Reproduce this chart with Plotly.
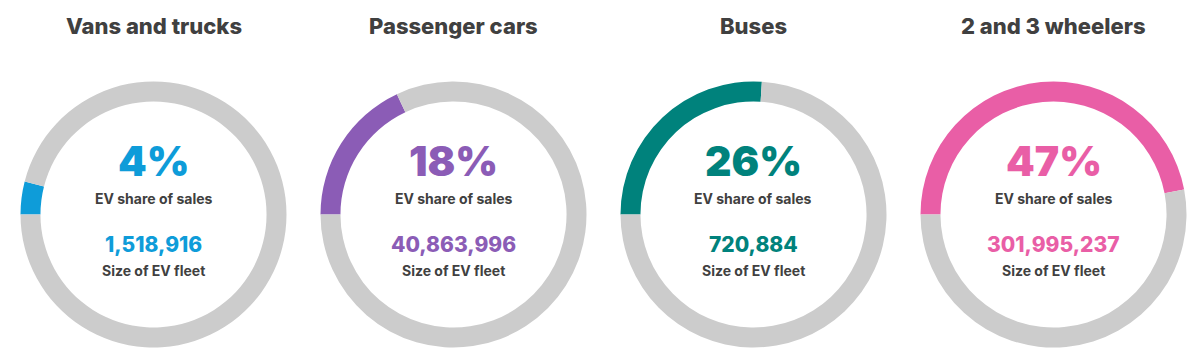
import plotly.graph_objects as go

categories = ["Vans and trucks", "Passenger cars", "Buses", "2 and 3 wheelers"]
ev_share = [4, 18, 26, 47]
fleet_labels = ["1,518,916", "40,863,996", "720,884", "301,995,237"]
colors = ["#0e9cd9", "#8b5cb6", "#00827c", "#e95ea6"]
grey = "#cccccc"
text_dark = "#404040"

OFF = 8  # default page body margin
W, H = 1200 - OFF, 357 - OFF
cx0, step = 153.5 - OFF, 300
cy = 214.5 - OFF
r = 133
FONT = "Inter"

fig = go.Figure()
for i, (cat, share, col) in enumerate(zip(categories, ev_share, colors)):
    cx = cx0 + step * i
    fig.add_trace(go.Pie(
        values=[share, 100 - share],
        labels=["EV", "Other"],
        marker=dict(colors=[col, grey], line=dict(width=0)),
        hole=0.85,
        sort=False,
        direction="clockwise",
        rotation=270,
        textinfo="none",
        hoverinfo="skip",
        showlegend=False,
        domain=dict(x=[(cx - r) / W, (cx + r) / W], y=[(H - cy - r) / H, (H - cy + r) / H]),
    ))

    def ann(text, ypx, size, color, anchor="middle", weight=800):
        fig.add_annotation(
            x=cx / W, y=1 - (ypx - OFF) / H, xref="paper", yref="paper",
            text=text, showarrow=False, xanchor="center", yanchor=anchor,
            font=dict(family=FONT, size=size, color=color, weight=weight),
        )

    ann(cat, 25.5, 22, text_dark)
    ann(f"{share}%", 188, 41, col, anchor="bottom", weight=900)
    ann("EV share of sales", 188, 14, text_dark, anchor="top", weight=750)
    ann(fleet_labels[i], 259, 21, col, anchor="bottom")
    ann("Size of EV fleet", 259.5, 14, text_dark, anchor="top", weight=750)

fig.update_layout(
    width=W, height=H, autosize=False,
    margin=dict(l=0, r=0, t=0, b=0),
    paper_bgcolor="white", plot_bgcolor="white",
)
fig.write_html("out.html")
